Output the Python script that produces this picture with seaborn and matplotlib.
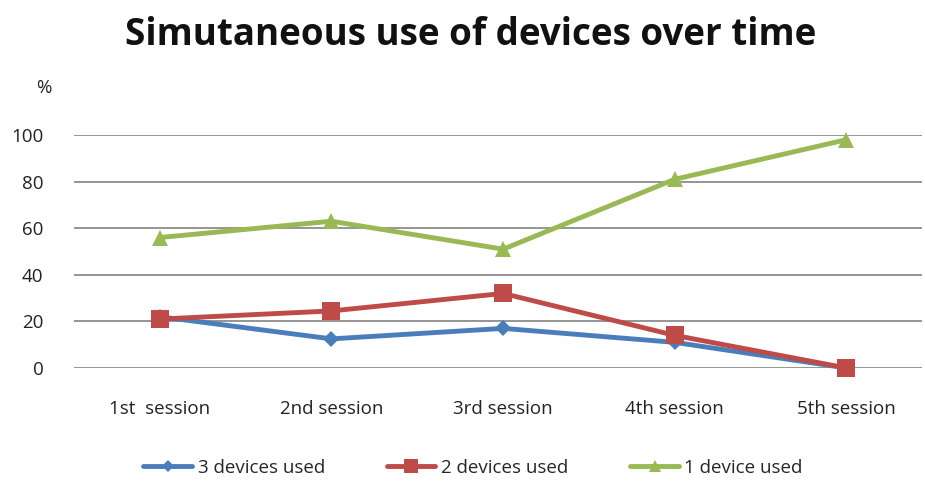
import matplotlib
matplotlib.use("Agg")
import matplotlib.pyplot as plt
import seaborn as sns
import pandas as pd

sessions = ["1st  session", "2nd session", "3rd session", "4th session", "5th session"]
three_devices = [22, 12.5, 17, 11, 0]
two_devices = [21, 24.5, 32, 14, 0]
one_device = [56, 63, 51, 81, 98]
series_names = ["3 devices used", "2 devices used", "1 device used"]
yticks = [0, 20, 40, 60, 80, 100]

rows = []
for name, vals in zip(series_names, [three_devices, two_devices, one_device]):
    for s, v in zip(sessions, vals):
        rows.append({"session": s, "value": v, "series": name})
df = pd.DataFrame(rows)

sns.set_theme(style="white")
plt.rcParams["font.family"] = ["Open Sans", "DejaVu Sans"]

fig = plt.figure(figsize=(9.25, 4.84), dpi=100)
ax = fig.add_axes([74/925, 1 - 368/484, (922-74)/925, (368-135)/484])

palette = {"3 devices used": "#4a7ebb", "2 devices used": "#be4b48", "1 device used": "#98b954"}
markers = {"3 devices used": "D", "2 devices used": "s", "1 device used": "^"}
sizes_m = {"3 devices used": 8, "2 devices used": 13, "1 device used": 12}

sns.lineplot(data=df, x="session", y="value", hue="series", style="series",
             markers=markers, dashes=False, palette=palette, linewidth=3.5,
             markersize=12, markeredgewidth=0, ax=ax, legend=True, sort=False)

for line, name in zip(ax.lines[:3], series_names):
    line.set_markersize(sizes_m[name])

ax.set_ylim(0, 100)
ax.set_xlim(-0.5, 4.44)
ax.set_yticks(yticks)
ax.set_yticklabels([str(t) for t in yticks])
ax.yaxis.grid(True, color="#8c8c8c", linewidth=1.3)
ax.set_axisbelow(True)
for sp in ax.spines.values():
    sp.set_visible(False)
ax.tick_params(axis="y", length=0, pad=22, labelsize=13.5, labelcolor="#222222")
ax.tick_params(axis="x", length=0, pad=23, labelsize=13.5, labelcolor="#222222")
ax.set_xlabel("")
ax.set_ylabel("")
for line in ax.lines:
    line.set_clip_on(False)

fig.text(44/925, 1 - 88/484, "%", ha="center", va="center", fontsize=13.5, color="#222222")
fig.text(471/925, 1 - 35/484, "Simutaneous use of devices over time", ha="center", va="center",
         fontsize=26.5, fontweight="bold", color="#111111")

handles, labels = ax.get_legend_handles_labels()
ax.legend_.remove()
for h, name in zip(handles, labels):
    h.set_markersize(sizes_m.get(name, 10) * 0.75)
leg = fig.legend(handles, labels, loc="center", bbox_to_anchor=(473/925, 1 - 468/484), ncol=3,
                 frameon=False, fontsize=13.5, handlelength=2.6, columnspacing=3.3, handletextpad=0.3)

fig.savefig("out.png", dpi=100)
